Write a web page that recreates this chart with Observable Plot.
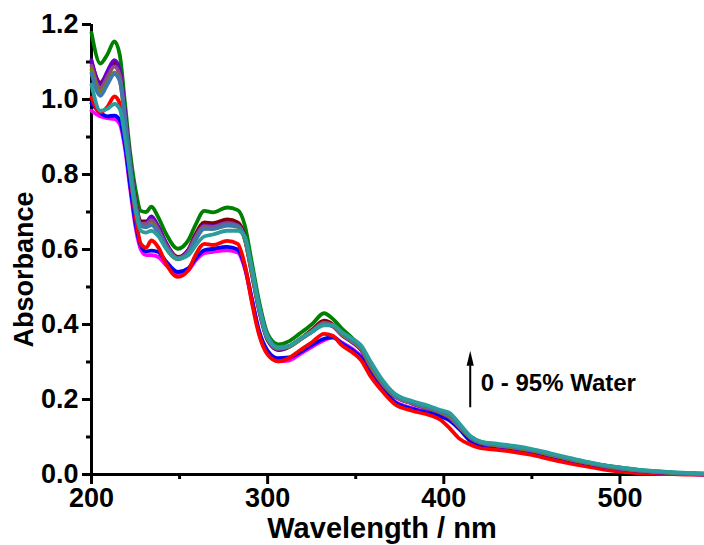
<!DOCTYPE html>
<html>
<head>
<meta charset="utf-8">
<script src="https://cdn.jsdelivr.net/npm/d3@7"></script>
<script src="https://cdn.jsdelivr.net/npm/@observablehq/plot@0.6"></script>
<style>
  html, body { margin: 0; padding: 0; background: #fff; }
</style>
</head>
<body>
<div id="chart"></div>
<script>
// UV-vis absorption spectra recorded in solvent mixtures with 0 - 95% water
const wavelengths = [200, 205, 209, 213, 216, 219, 222, 225, 228, 231, 234, 238, 242, 249, 255, 259, 264, 269, 277, 283,
  287, 291, 295, 300, 306, 312, 318, 325, 332, 337, 342, 348, 353, 358, 364, 372, 382, 392, 398, 403,
  409, 415, 421, 430, 440, 450, 460, 470, 480, 490, 500, 510, 520, 530, 540, 548];

const magenta = [0.97, 0.955, 0.95, 0.948, 0.935, 0.87, 0.76, 0.66, 0.60, 0.585, 0.585, 0.58, 0.56, 0.535, 0.545, 0.57, 0.59, 0.594, 0.598, 0.592,
  0.55, 0.465, 0.38, 0.322, 0.302, 0.304, 0.32, 0.34, 0.358, 0.366, 0.352, 0.335, 0.315, 0.275, 0.237, 0.195, 0.177, 0.166, 0.16, 0.153,
  0.128, 0.095, 0.08, 0.073, 0.066, 0.058, 0.047, 0.037, 0.027, 0.019, 0.013, 0.008, 0.005, 0.003, 0.001, 0.0];
const blue = [0.99, 0.965, 0.955, 0.957, 0.945, 0.88, 0.77, 0.67, 0.61, 0.595, 0.597, 0.593, 0.57, 0.54, 0.55, 0.575, 0.598, 0.602, 0.607, 0.6,
  0.555, 0.47, 0.385, 0.33, 0.31, 0.312, 0.325, 0.345, 0.362, 0.366, 0.35, 0.332, 0.312, 0.272, 0.235, 0.193, 0.175, 0.163, 0.155, 0.145,
  0.12, 0.09, 0.078, 0.072, 0.066, 0.058, 0.047, 0.037, 0.027, 0.019, 0.013, 0.008, 0.005, 0.003, 0.001, 0.0];
const red = [1.005, 0.966, 0.98, 1.008, 0.99, 0.91, 0.80, 0.69, 0.615, 0.605, 0.624, 0.605, 0.565, 0.527, 0.545, 0.585, 0.615, 0.612, 0.623, 0.615,
  0.56, 0.46, 0.375, 0.32, 0.302, 0.31, 0.33, 0.352, 0.375, 0.37, 0.345, 0.326, 0.305, 0.265, 0.228, 0.188, 0.17, 0.158, 0.146, 0.125,
  0.095, 0.08, 0.07, 0.066, 0.06, 0.052, 0.041, 0.031, 0.022, 0.014, 0.008, 0.004, 0.002, 0.001, 0.0, 0.0];
const green = [1.178, 1.096, 1.12, 1.155, 1.12, 0.99, 0.856, 0.76, 0.703, 0.70, 0.714, 0.685, 0.645, 0.602, 0.625, 0.665, 0.703, 0.699, 0.712, 0.705,
  0.665, 0.566, 0.465, 0.375, 0.347, 0.355, 0.375, 0.40, 0.43, 0.415, 0.39, 0.364, 0.34, 0.295, 0.25, 0.212, 0.192, 0.178, 0.168, 0.155,
  0.128, 0.102, 0.087, 0.08, 0.074, 0.066, 0.055, 0.044, 0.034, 0.025, 0.018, 0.012, 0.008, 0.005, 0.003, 0.002];
const wine = [1.10, 1.045, 1.07, 1.097, 1.075, 0.96, 0.83, 0.73, 0.675, 0.675, 0.683, 0.66, 0.62, 0.58, 0.60, 0.64, 0.672, 0.67, 0.68, 0.672,
  0.635, 0.54, 0.445, 0.36, 0.332, 0.34, 0.36, 0.385, 0.41, 0.40, 0.375, 0.355, 0.335, 0.29, 0.248, 0.21, 0.19, 0.175, 0.165, 0.152,
  0.125, 0.098, 0.084, 0.077, 0.071, 0.063, 0.052, 0.041, 0.031, 0.023, 0.016, 0.011, 0.007, 0.004, 0.002, 0.001];
const violet = [1.105, 1.04, 1.075, 1.105, 1.08, 0.965, 0.83, 0.725, 0.67, 0.672, 0.688, 0.66, 0.62, 0.578, 0.598, 0.635, 0.665, 0.662, 0.672, 0.665,
  0.628, 0.535, 0.44, 0.358, 0.333, 0.34, 0.358, 0.38, 0.402, 0.395, 0.372, 0.352, 0.332, 0.288, 0.246, 0.208, 0.189, 0.174, 0.164, 0.152,
  0.124, 0.097, 0.083, 0.076, 0.07, 0.062, 0.051, 0.04, 0.03, 0.022, 0.015, 0.01, 0.006, 0.004, 0.002, 0.001];
const purple = [1.09, 1.03, 1.06, 1.088, 1.065, 0.955, 0.825, 0.722, 0.668, 0.668, 0.678, 0.652, 0.614, 0.577, 0.595, 0.632, 0.662, 0.66, 0.67, 0.664,
  0.63, 0.54, 0.445, 0.362, 0.336, 0.342, 0.36, 0.382, 0.405, 0.398, 0.375, 0.355, 0.336, 0.292, 0.25, 0.21, 0.19, 0.176, 0.166, 0.154,
  0.126, 0.099, 0.085, 0.078, 0.072, 0.064, 0.053, 0.042, 0.032, 0.023, 0.016, 0.011, 0.007, 0.004, 0.002, 0.001];
const olive = [1.08, 1.02, 1.045, 1.072, 1.052, 0.945, 0.82, 0.716, 0.662, 0.66, 0.668, 0.645, 0.606, 0.574, 0.59, 0.626, 0.656, 0.655, 0.664, 0.66,
  0.628, 0.54, 0.445, 0.362, 0.336, 0.34, 0.358, 0.38, 0.4, 0.396, 0.374, 0.355, 0.336, 0.294, 0.251, 0.21, 0.19, 0.176, 0.166, 0.156,
  0.127, 0.099, 0.085, 0.078, 0.072, 0.064, 0.053, 0.042, 0.032, 0.024, 0.017, 0.011, 0.007, 0.004, 0.002, 0.001];
const steel = [1.07, 1.01, 1.04, 1.068, 1.05, 0.95, 0.825, 0.72, 0.665, 0.66, 0.665, 0.645, 0.608, 0.575, 0.59, 0.625, 0.655, 0.655, 0.665, 0.662,
  0.632, 0.55, 0.455, 0.37, 0.34, 0.342, 0.36, 0.38, 0.4, 0.398, 0.378, 0.358, 0.34, 0.3, 0.255, 0.212, 0.192, 0.178, 0.168, 0.16,
  0.13, 0.1, 0.086, 0.08, 0.074, 0.066, 0.055, 0.044, 0.034, 0.025, 0.018, 0.012, 0.008, 0.005, 0.003, 0.002];
const teal = [1.04, 0.97, 0.975, 0.988, 0.975, 0.9, 0.8, 0.705, 0.65, 0.645, 0.65, 0.635, 0.605, 0.575, 0.585, 0.61, 0.635, 0.64, 0.65, 0.65,
  0.635, 0.55, 0.45, 0.365, 0.338, 0.342, 0.36, 0.38, 0.398, 0.398, 0.38, 0.362, 0.345, 0.305, 0.26, 0.216, 0.196, 0.182, 0.172, 0.165,
  0.135, 0.103, 0.088, 0.082, 0.076, 0.068, 0.057, 0.046, 0.035, 0.026, 0.019, 0.013, 0.009, 0.006, 0.004, 0.002];

// drawing order: first listed is painted first (underneath)
const seriesNames = ["magenta", "blue", "red", "green", "wine", "violet", "purple", "olive", "steel", "teal"];
const seriesValues = [magenta, blue, red, green, wine, violet, purple, olive, steel, teal];
const seriesColors = ["#ff00ff", "#0000ff", "#ff0000", "#008000", "#800000", "#6a00c8", "#8c4a8c", "#808000", "#3d77b0", "#2c9c9c"];

const xMajorTicks = [200, 300, 400, 500];
const xMinorTicks = [250, 350, 450];
const yMajorTicks = [0, 0.2, 0.4, 0.6, 0.8, 1.0, 1.2];
const yMinorTicks = [0.1, 0.3, 0.5, 0.7, 0.9, 1.1];

const xTitle = "Wavelength / nm";
const yTitle = "Absorbance";
const noteText = "0 - 95% Water";
// annotation anchor (data units): arrow shaft from noteArrowFrom to noteArrowTo
const noteX = 415;
const noteArrowFrom = 0.178;
const noteArrowTo = 0.29;
const noteTextX = 421;
const noteTextY = 0.243;

const rows = seriesNames.flatMap((name, s) =>
  wavelengths.map((w, i) => ({ name, wavelength: w, absorbance: seriesValues[s][i] }))
);

// narrow filled arrowhead, anchored at its base
const arrowHead = {
  draw(context) {
    context.moveTo(0, -15);
    context.lineTo(3.6, 0);
    context.lineTo(-3.6, 0);
    context.closePath();
  }
};

const chart = Plot.plot({
  width: 704,
  height: 545,
  marginLeft: 91,
  marginRight: 0,
  marginTop: 24,
  marginBottom: 71,
  style: { fontFamily: "'Liberation Sans', Arial, sans-serif", fontWeight: "bold", background: "#fff", color: "#000", overflow: "visible" },
  x: { domain: [200, 548] },
  y: { domain: [0, 1.2] },
  color: { domain: seriesNames, range: seriesColors },
  marks: [
    Plot.axisY({ ticks: yMajorTicks, tickSize: 9, tickPadding: 4, strokeWidth: 3, fontSize: 27, tickFormat: d3.format(".1f"), label: null }),
    Plot.axisY({ ticks: yMinorTicks, tickSize: 5, strokeWidth: 3, tickFormat: () => "", label: null }),
    Plot.axisX({ ticks: xMajorTicks, tickSize: 10, tickPadding: 3, strokeWidth: 3, fontSize: 27, tickFormat: d3.format("d"), label: null }),
    Plot.axisX({ ticks: xMinorTicks, tickSize: 5, strokeWidth: 3, tickFormat: () => "", label: null }),
    Plot.ruleY([0], { stroke: "#000", strokeWidth: 3 }),
    Plot.ruleX([200], { stroke: "#000", strokeWidth: 3 }),
    Plot.line(rows, {
      x: "wavelength", y: "absorbance", z: "name", stroke: "name",
      strokeWidth: 3.8, curve: "monotone-x", strokeLinejoin: "round"
    }),
    Plot.ruleX([noteX], { y1: noteArrowFrom, y2: noteArrowTo, stroke: "#000", strokeWidth: 2 }),
    Plot.dot([noteX], { x: d => d, y: noteArrowTo, symbol: arrowHead, fill: "#000", stroke: null }),
    Plot.text([noteText], { x: noteTextX, y: noteTextY, text: d => d, textAnchor: "start", fontSize: 24, fontWeight: "bold", fill: "#000" }),
    Plot.text([xTitle], { frameAnchor: "bottom", text: d => d, textAnchor: "middle", lineAnchor: "middle", dx: -16, dy: 54, fontSize: 29, fontWeight: "bold", fill: "#000" }),
    Plot.text([yTitle], { frameAnchor: "left", text: d => d, textAnchor: "middle", lineAnchor: "middle", rotate: -90, dx: -67, dy: 20, fontSize: 27, fontWeight: "bold", fill: "#000" })
  ]
});

document.getElementById("chart").appendChild(chart);
</script>
</body>
</html>
